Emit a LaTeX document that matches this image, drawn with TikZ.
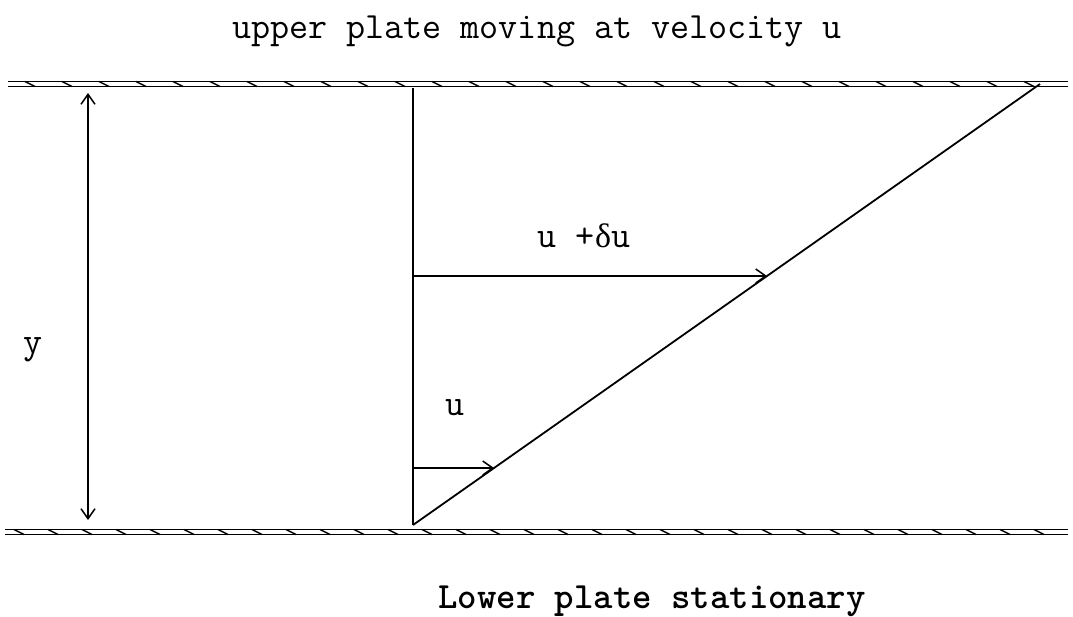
\documentclass[tikz,border=0pt]{standalone}
\usepackage{fontspec}
\newfontfamily\greekfont{Liberation Serif}
\usetikzlibrary{arrows.meta}
\tikzset{
  line/.style={line width=1.8pt, black},
  plateline/.style={line width=1.5pt, black},
  hatch/.style={line width=1.5pt, black},
  barb/.tip={Straight Barb[length=10pt,width=14pt,line width=1.5pt]},
  vel/.style={line width=1.6pt, -barb},
  dim/.style={line width=1.6pt, barb-barb},
  lbl/.style={font=\ttfamily\fontsize{37pt}{39pt}\selectfont, inner sep=0pt},
}
\begin{document}
\begin{tikzpicture}[x=1pt,y=-1pt]
\useasboundingbox (0,0) rectangle (1073,617);
% upper plate
\draw[plateline] (8,81.5) -- (1068,81.5);
\draw[plateline] (8,86.5) -- (1068,86.5);
\foreach \x in {25,62,...,1060} \draw[hatch] (\x,81.5) -- (\x+10,86.5);
% lower plate
\draw[plateline] (5,529.5) -- (1068,529.5);
\draw[plateline] (5,534.5) -- (1068,534.5);
\foreach \x in {14,48,...,1060} \draw[hatch] (\x,529.5) -- (\x+10,534.5);
% nodes / coordinates
\coordinate (base) at (413,525);
\coordinate (top) at (413,88);
\coordinate (corner) at (1040,84);
\coordinate (a1) at (413,276);
\coordinate (b1) at (767,276);
\coordinate (a2) at (413,468);
\coordinate (b2) at (494,468);
\coordinate (dtop) at (88,93);
\coordinate (dbot) at (88,520);
% profile
\draw[line] (top) -- (base);
\draw[line] (base) -- (corner);
\draw[vel] (a1) -- (b1);
\draw[vel] (a2) -- (b2);
\draw[dim] (dtop) -- (dbot);
% labels
\node[lbl] (title) at (537,31) {upper plate moving at velocity u};
\node[lbl, font=\ttfamily\bfseries\fontsize{37pt}{39pt}\selectfont] (bottom) at (652,601) {Lower plate stationary};
\node[lbl] (ylab) at (33,350) {y};
\node[lbl] (ulab) at (455,408) {u};
\node[lbl] (dulab) at (584,236) {u +{\greekfont\fontsize{34pt}{36pt}\selectfont δ}u};
\end{tikzpicture}
\end{document}
